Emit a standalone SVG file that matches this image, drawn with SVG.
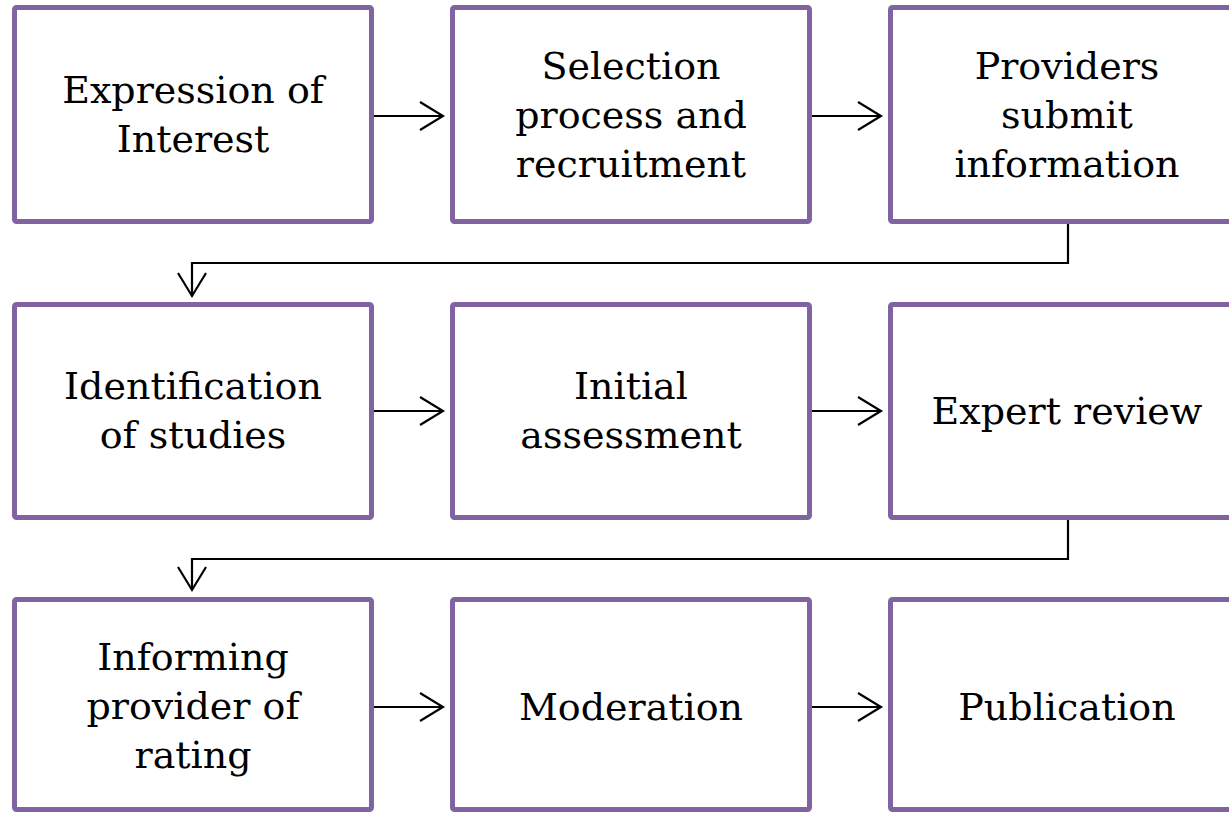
<svg xmlns="http://www.w3.org/2000/svg" width="1229" height="813" viewBox="0 0 1229 813">
<defs>
<style>
.box{fill:#ffffff;stroke:#8064A2;stroke-width:5;}
.lbl{font-family:"DejaVu Serif","Liberation Serif",serif;font-size:38px;fill:#000000;text-anchor:middle;}
.con{fill:none;stroke:#000000;stroke-width:2.2;}
</style>
<marker id="ah" markerUnits="userSpaceOnUse" markerWidth="30" markerHeight="34" refX="24" refY="15" orient="auto">
<polyline points="1,1 24,15 1,29" fill="none" stroke="#000000" stroke-width="2.2"/>
</marker>
</defs>
<rect width="1229" height="813" fill="#ffffff"/>
<g id="connectors">
<line class="con" x1="374" y1="116" x2="443" y2="116" marker-end="url(#ah)"/>
<line class="con" x1="812" y1="116" x2="881" y2="116" marker-end="url(#ah)"/>
<polyline class="con" points="1068,224 1068,263 192,263 192,296" marker-end="url(#ah)"/>
<line class="con" x1="374" y1="411" x2="443" y2="411" marker-end="url(#ah)"/>
<line class="con" x1="812" y1="411" x2="881" y2="411" marker-end="url(#ah)"/>
<polyline class="con" points="1068,520 1068,559 192,559 192,590" marker-end="url(#ah)"/>
<line class="con" x1="374" y1="707" x2="443" y2="707" marker-end="url(#ah)"/>
<line class="con" x1="812" y1="707" x2="881" y2="707" marker-end="url(#ah)"/>
</g>
<g id="n1"><rect class="box" x="14.5" y="7.5" width="357" height="214" rx="2"/>
<text class="lbl" x="193" y="103">Expression of</text><text class="lbl" x="193" y="152">Interest</text></g>
<g id="n2"><rect class="box" x="452.5" y="7.5" width="357" height="214" rx="2"/>
<text class="lbl" x="631" y="79">Selection</text><text class="lbl" x="631" y="128">process and</text><text class="lbl" x="631" y="177">recruitment</text></g>
<g id="n3"><rect class="box" x="890.5" y="7.5" width="357" height="214" rx="2"/>
<text class="lbl" x="1067" y="79">Providers</text><text class="lbl" x="1067" y="128">submit</text><text class="lbl" x="1067" y="177">information</text></g>
<g id="n4"><rect class="box" x="14.5" y="304.5" width="357" height="213" rx="2"/>
<text class="lbl" x="193" y="399">Identification</text><text class="lbl" x="193" y="448">of studies</text></g>
<g id="n5"><rect class="box" x="452.5" y="304.5" width="357" height="213" rx="2"/>
<text class="lbl" x="631" y="399">Initial</text><text class="lbl" x="631" y="448">assessment</text></g>
<g id="n6"><rect class="box" x="890.5" y="304.5" width="357" height="213" rx="2"/>
<text class="lbl" x="1067" y="424">Expert review</text></g>
<g id="n7"><rect class="box" x="14.5" y="599.5" width="357" height="210" rx="2"/>
<text class="lbl" x="193" y="670">Informing</text><text class="lbl" x="193" y="719">provider of</text><text class="lbl" x="193" y="768">rating</text></g>
<g id="n8"><rect class="box" x="452.5" y="599.5" width="357" height="210" rx="2"/>
<text class="lbl" x="631" y="720">Moderation</text></g>
<g id="n9"><rect class="box" x="890.5" y="599.5" width="357" height="210" rx="2"/>
<text class="lbl" x="1067" y="720">Publication</text></g>
</svg>
